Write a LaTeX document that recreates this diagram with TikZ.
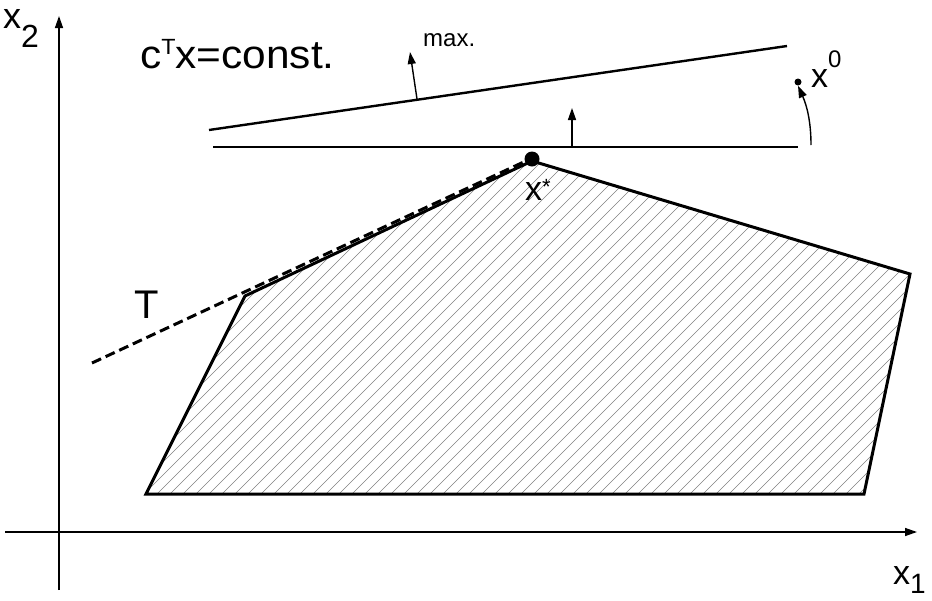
\documentclass[tikz,border=0pt]{standalone}
\usepackage{fontspec}
\setmainfont{Liberation Sans}
\usetikzlibrary{arrows.meta}
\newcommand\fs[1]{\fontsize{#1}{#1}\selectfont}
\begin{document}
\begin{tikzpicture}[x=1pt,y=-1pt,
  axisline/.style={line width=1.4pt,-{Triangle[length=12pt,width=8pt]}},
  levelline/.style={line width=2.4pt},
  normarrow/.style={line width=1.4pt,-{Triangle[length=12pt,width=8pt]}},
  polyline/.style={line width=3pt,line join=miter},
  hatchline/.style={line width=0.6pt,gray},
  tangent/.style={line width=3pt,dash pattern=on 10pt off 5pt},
  lbl/.style={inner sep=0pt,anchor=base west}]
\useasboundingbox (0,0) rectangle (932,600);
% polygon vertices
\coordinate (P1) at (146,494);
\coordinate (P2) at (245,296);
\coordinate (P3) at (532,161);
\coordinate (P4) at (910,274);
\coordinate (P5) at (864,494);
% hatching
\begin{scope}
\clip (P1)--(P2)--(P3)--(P4)--(P5)--cycle;
\foreach \i in {-200,-187,...,920} \draw[hatchline] (\i,500) -- ++(360,-360);
\end{scope}
\draw[polyline] (P1)--(P2)--(P3)--(P4)--(P5)--cycle;
% tangent T
\coordinate (T0) at (92,363);
\coordinate (T1) at (528,160);
\draw[tangent] (T0) -- (T1);
% optimum point
\node[circle,fill,minimum size=15pt,inner sep=0pt] (xstar) at (532,159) {};
% axes
\coordinate (A0) at (59,590);
\coordinate (A1) at (59,16);
\coordinate (B0) at (5,532);
\coordinate (B1) at (917,532);
\draw[axisline] (A0) -- (A1);
\draw[axisline] (B0) -- (B1);
% level lines
\coordinate (L1a) at (209,130);
\coordinate (L1b) at (787,46);
\coordinate (L2a) at (213,147);
\coordinate (L2b) at (798,147);
\draw[levelline] (L1a) -- (L1b);
\draw[levelline] (L2a) -- (L2b);
% normal arrows
\coordinate (N1a) at (417,99);
\coordinate (N1b) at (410,52);
\coordinate (N2a) at (572,147);
\coordinate (N2b) at (572,108);
\draw[normarrow] (N1a) -- (N1b);
\draw[normarrow] (N2a) -- (N2b);
% x0 point and curved arrow
\node[circle,fill,minimum size=7pt,inner sep=0pt] (xzero) at (798,82) {};
\coordinate (C0) at (811,145);
\draw[normarrow] (C0) .. controls (811,122) and (807,106) .. (xzero.south);
% labels
\node[lbl] (ctx) at (140,68) {\scalebox{1.06}[1]{\fs{40}c\raisebox{14pt}{\fs{22}T}x=const.}};
\node[lbl] (max) at (423,46) {\fs{24}max.};
\node[lbl] (xtwo) at (3,28) {\fs{36}x\raisebox{-19pt}{\fs{32}2}};
\node[lbl] (xone) at (893,584) {\fs{34}x\raisebox{-9pt}{\fs{28}1}};
\node[lbl] (tlab) at (134,318) {\fs{40}T};
\node[lbl] (xs) at (525,200) {\fs{34}x\raisebox{6pt}{\fs{22}*}};
\node[lbl] (x0) at (811,87) {\fs{34}x\raisebox{20pt}{\fs{24}0}};
\end{tikzpicture}
\end{document}
